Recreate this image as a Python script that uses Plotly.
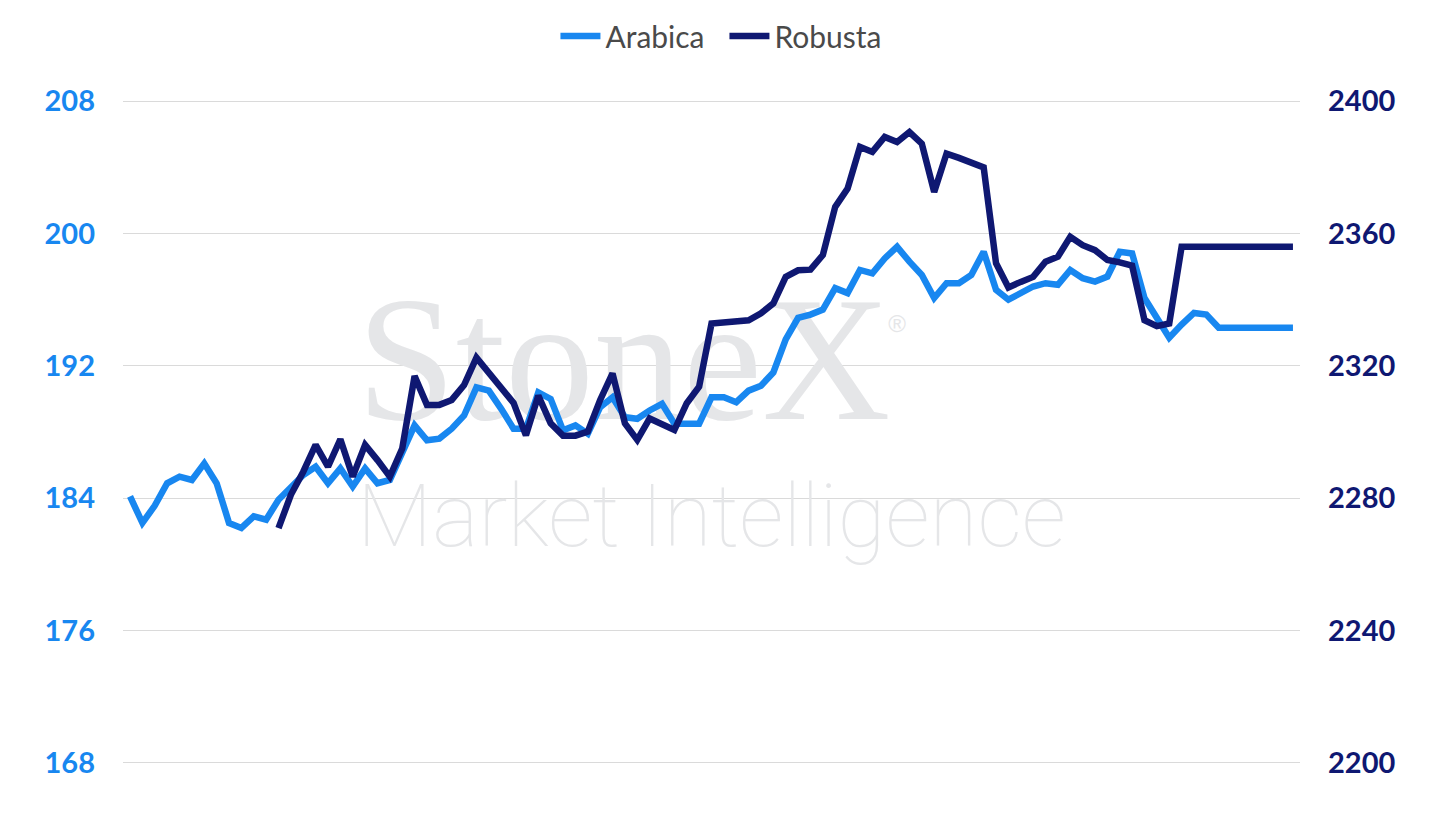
import plotly.graph_objects as go

# weekly points, arabica (left axis, USc/lb) and robusta (right axis, USD/t)
weeks = list(range(95))
arabica = [
    184.1, 182.5, 183.55, 184.9, 185.3, 185.1, 186.1, 184.9, 182.5, 182.2,
    182.9, 182.7, 183.9, 184.6, 185.4, 185.9, 184.9, 185.8, 184.7, 185.8,
    184.9, 185.1, 186.7, 188.4, 187.5, 187.6, 188.2, 189.0, 190.7, 190.5,
    189.4, 188.2, 188.2, 190.4, 190.0, 188.1, 188.4, 187.9, 189.5, 190.1,
    188.9, 188.8, 189.3, 189.7, 188.5, 188.5, 188.5, 190.1, 190.1, 189.8,
    190.5, 190.8, 191.6, 193.6, 194.9, 195.1, 195.4, 196.7, 196.4, 197.8,
    197.6, 198.5, 199.2, 198.3, 197.5, 196.1, 197.0, 197.0, 197.5, 198.9,
    196.6, 196.0, 196.4, 196.8, 197.0, 196.9, 197.8, 197.3, 197.1, 197.4,
    198.9, 198.8, 196.1, 194.9, 193.7, 194.5, 195.2, 195.1, 194.3, 194.3,
    194.3, 194.3, 194.3, 194.3, 194.3,
]

robusta_weeks = weeks[12:]
robusta = [
    2270.9, 2281.0, 2288.0, 2296.1, 2289.5, 2297.8, 2286.5, 2296.1,
    2291.5, 2286.5, 2295.0, 2316.9, 2308.2, 2308.2, 2309.7, 2314.2, 2322.5, 2318.1,
    2313.3, 2308.8, 2299.0, 2311.0, 2302.6, 2298.9, 2298.9, 2300.1, 2309.7, 2317.7,
    2302.6, 2297.6, 2304.1, 2302.1, 2300.6, 2308.7, 2313.7, 2332.8, 2333.2, 2333.5,
    2333.8, 2335.9, 2338.9, 2346.9, 2348.9, 2349.1, 2353.5, 2368.1, 2373.6, 2386.2,
    2384.7, 2389.2, 2387.7, 2390.7, 2387.2, 2372.6, 2384.2, 2382.9, 2381.5, 2380.0,
    2351.0, 2343.7, 2345.4, 2346.9, 2351.5, 2353.0, 2359.0, 2356.5, 2355.0, 2352.0,
    2351.3, 2350.3, 2333.8, 2332.0, 2332.8, 2356.0, 2356.0, 2356.0, 2356.0, 2356.0,
    2356.0, 2356.0, 2356.0, 2356.0, 2356.0,
]

left_ticks = [168, 176, 184, 192, 200, 208]
right_ticks = [2200, 2240, 2280, 2320, 2360, 2400]

ARABICA_COL = "#1887f0"
ROBUSTA_COL = "#0f1872"
WM_COL = "#e5e6e8"

fig = go.Figure()

# watermark goes in first so both lines draw over it
fig.add_trace(go.Scatter(
    x=[39.9], y=[191.45], mode="text", text=["StoneX"],
    textfont=dict(family="Liberation Serif", size=178, color=WM_COL),
    showlegend=False, hoverinfo="skip"))
fig.add_trace(go.Scatter(
    x=[62.0], y=[194.4], mode="text", text=["®"],
    textfont=dict(family="Liberation Sans", size=24, color=WM_COL),
    showlegend=False, hoverinfo="skip"))
fig.add_trace(go.Scatter(
    x=[47.0], y=[182.45], mode="text", text=["Market Intelligence"],
    textfont=dict(family="Roboto", size=87.5, color=WM_COL, weight=100),
    showlegend=False, hoverinfo="skip"))

fig.add_trace(go.Scatter(x=weeks, y=arabica, mode="lines", name="Arabica",
                         line=dict(color=ARABICA_COL, width=6.5)))
fig.add_trace(go.Scatter(x=robusta_weeks, y=robusta, mode="lines", name="Robusta",
                         line=dict(color=ROBUSTA_COL, width=6.5), yaxis="y2"))

fig.update_layout(
    width=1437, height=827,
    margin=dict(l=115, r=145, t=90, b=69, autoexpand=False),
    plot_bgcolor="white", paper_bgcolor="white",
    font=dict(family="Lato"),
    showlegend=True,
    legend=dict(orientation="h", x=0.511, xanchor="center", y=1.093, yanchor="middle",
                font=dict(size=30, color="#4a4a4a"), itemwidth=40,
                entrywidth=114, entrywidthmode="pixels"),
    xaxis=dict(range=[-0.57, 94.57], showgrid=False, showticklabels=False,
               zeroline=False, showline=False),
    yaxis=dict(range=[167.8, 208.2], tickvals=left_ticks, showgrid=True,
               gridcolor="#dadada", gridwidth=1, zeroline=False, showline=False,
               tickfont=dict(size=29, color=ARABICA_COL, weight=700),
               ticklabelstandoff=27),
    yaxis2=dict(range=[2199, 2401], tickvals=right_ticks, overlaying="y", side="right",
                showgrid=False, zeroline=False, showline=False,
                tickfont=dict(size=29, color=ROBUSTA_COL, weight=700),
                ticklabelstandoff=27),
)

fig.write_html("out.html")
